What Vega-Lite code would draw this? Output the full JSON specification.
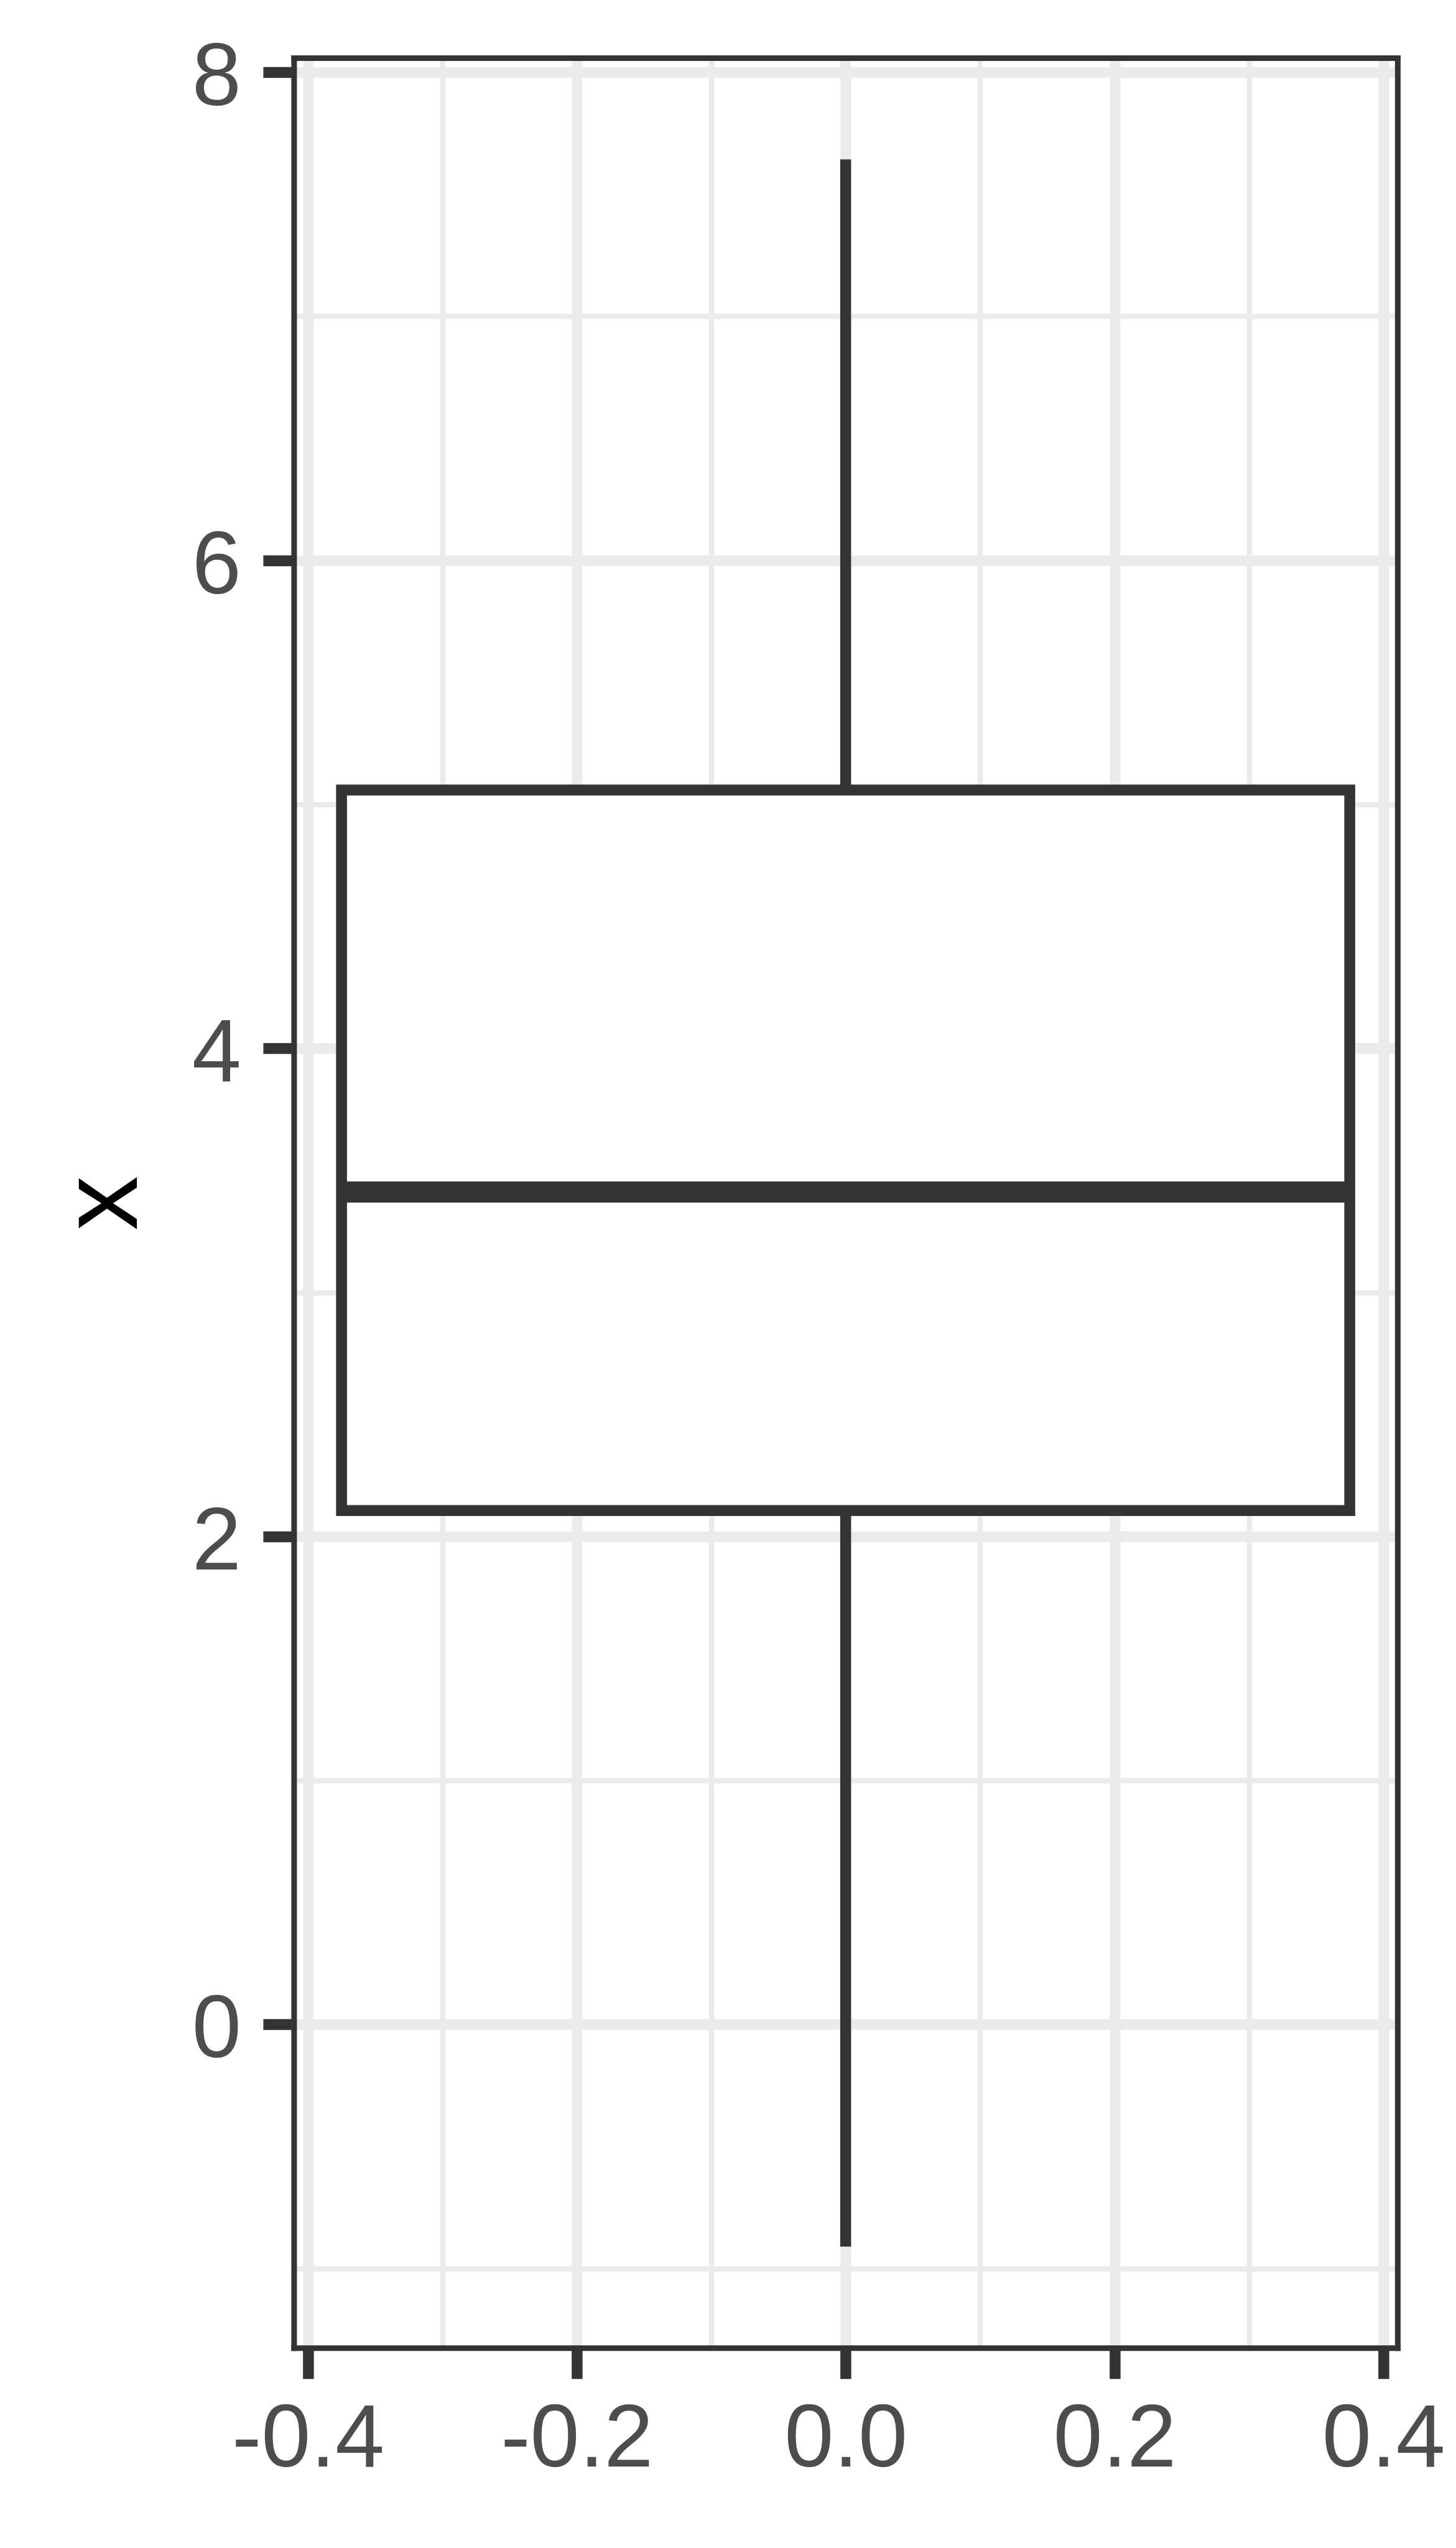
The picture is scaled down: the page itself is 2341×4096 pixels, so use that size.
{
  "$schema": "https://vega.github.io/schema/vega-lite/v6.json",
  "autosize": {"type": "none"},
  "padding": {"left": 472.4, "top": 93.0, "right": 94.1, "bottom": 321.7},
  "width": 1774.5,
  "height": 3681.3,
  "background": "white",
  "config": {"view": {"stroke": null}},
  "data": {"values": [
    {"x": 0, "xmin": -0.375, "xmax": 0.375, "lower": -0.91, "q1": 2.106, "median": 3.411, "q3": 5.059, "upper": 7.643}
  ]},
  "layer": [
    {
      "mark": {"type": "rule", "stroke": "#333333", "strokeWidth": 17.5},
      "encoding": {
        "x": {"field": "x", "type": "quantitative",
          "scale": {"domain": [-0.4105, 0.4105], "nice": false, "zero": false},
          "axis": {"orient": "bottom", "values": [-0.4, -0.2, 0, 0.2, 0.4],
            "labelExpr": "replace(format(datum.value, '.1f'), '\u2212', '-')",
            "grid": true, "gridColor": "#EBEBEB", "gridWidth": 17.1,
            "domain": true, "domainColor": "#333333", "domainWidth": 9, "domainCap": "square",
            "ticks": true, "tickColor": "#333333", "tickWidth": 17.5, "tickSize": 49.5,
            "labelFont": "Liberation Sans", "labelFontSize": 142.4, "labelColor": "#4D4D4D",
            "labelPadding": 28.3, "labelFlush": false, "labelOverlap": false, "labelLimit": 0, "title": null}},
        "y": {"field": "lower", "type": "quantitative",
          "scale": {"domain": [-1.3253, 8.0591], "nice": false, "zero": false},
          "axis": {"orient": "left", "values": [0, 2, 4, 6, 8], "format": "d",
            "grid": true, "gridColor": "#EBEBEB", "gridWidth": 17.1,
            "domain": true, "domainColor": "#333333", "domainWidth": 9, "domainCap": "square",
            "ticks": true, "tickColor": "#333333", "tickWidth": 17.5, "tickSize": 49.5,
            "labelFont": "Liberation Sans", "labelFontSize": 142.4, "labelColor": "#4D4D4D",
            "labelPadding": 35.5, "labelOffset": 9.5, "labelFlush": false, "labelOverlap": false, "labelLimit": 0,
            "title": "x", "titleFont": "Liberation Sans", "titleFontSize": 175.5,
            "titleColor": "#000000", "titleFontWeight": "normal", "titlePadding": 52}},
        "y2": {"field": "upper"}
      }
    },
    {
      "mark": {"type": "rect", "fill": "#FFFFFF", "stroke": "#333333", "strokeWidth": 17.5},
      "encoding": {
        "x": {"field": "xmin", "type": "quantitative",
          "scale": {"domain": [-0.4105, 0.4105], "nice": false, "zero": false},
          "axis": {"orient": "top", "values": [-0.3, -0.1, 0.1, 0.3],
            "grid": true, "gridColor": "#EBEBEB", "gridWidth": 8.6,
            "domain": true, "domainColor": "#333333", "domainWidth": 9, "domainCap": "square",
            "ticks": false, "labels": false, "title": null}},
        "x2": {"field": "xmax"},
        "y": {"field": "q1", "type": "quantitative",
          "scale": {"domain": [-1.3253, 8.0591], "nice": false, "zero": false},
          "axis": {"orient": "right", "values": [-1, 1, 3, 5, 7],
            "grid": true, "gridColor": "#EBEBEB", "gridWidth": 8.6,
            "domain": true, "domainColor": "#333333", "domainWidth": 9, "domainCap": "square",
            "ticks": false, "labels": false, "title": null}},
        "y2": {"field": "q3"}
      }
    },
    {
      "mark": {"type": "rule", "stroke": "#333333", "strokeWidth": 34},
      "encoding": {
        "x": {"field": "xmin", "type": "quantitative",
          "scale": {"domain": [-0.4105, 0.4105], "nice": false, "zero": false}, "axis": null},
        "x2": {"field": "xmax"},
        "y": {"field": "median", "type": "quantitative",
          "scale": {"domain": [-1.3253, 8.0591], "nice": false, "zero": false}, "axis": null}
      }
    }
  ],
  "resolve": {"axis": {"x": "independent", "y": "independent"}}
}
